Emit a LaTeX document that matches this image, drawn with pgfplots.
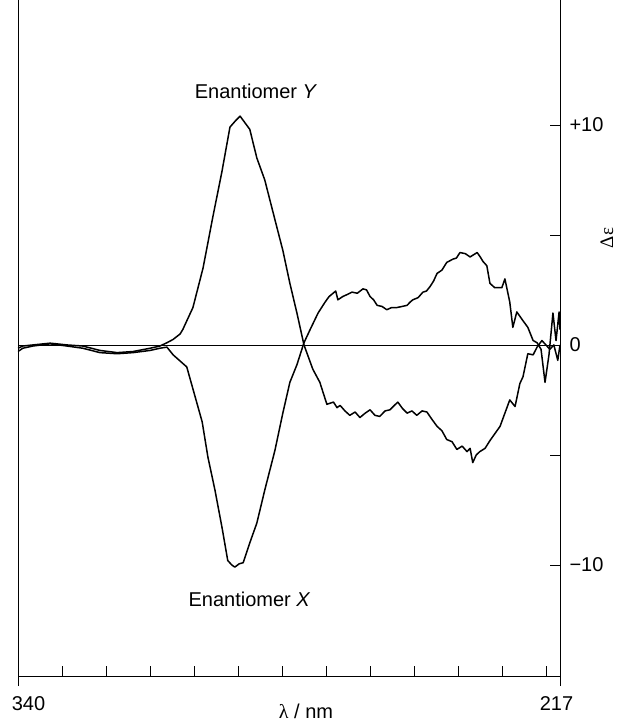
\documentclass[border=0pt]{standalone}
\usepackage{pgfplots}
\pgfplotsset{compat=1.18}
\usepackage{fontspec}
\setmainfont{Liberation Sans}
\newfontfamily\greekserif{Liberation Serif}
\newcommand\fs{\fontsize{20bp}{24bp}\selectfont}

\pgfplotstableread{
lam de
340 -0.15
338.9 -0.05
336.6 0.0
332.7 0.08
328.9 0.0
325.3 -0.05
321.4 -0.25
317.5 -0.35
313.9 -0.3
310.0 -0.15
307.8 -0.05
306.2 0.1
304.8 0.25
303.2 0.5
302.6 0.7
300.3 1.7
298.0 3.5
295.8 5.8
293.7 7.9
291.9 9.9
290.6 10.2
289.6 10.4
288.5 10.1
287.4 9.8
285.8 8.5
284.0 7.5
281.7 5.7
279.9 4.3
278.3 2.8
276.7 1.45
275.1 0.0
273.1 -1.1
271.5 -1.7
269.9 -2.7
268.4 -2.6
267.6 -2.85
266.9 -2.75
265.8 -3.0
264.7 -3.2
263.5 -3.05
262.4 -3.3
261.2 -3.1
260.1 -2.95
259.0 -3.2
257.9 -3.25
256.7 -3.0
255.6 -2.95
254.6 -2.75
253.8 -2.6
252.7 -2.9
251.7 -3.1
250.6 -3.0
249.5 -3.2
248.3 -3.0
247.2 -3.05
246.0 -3.4
244.9 -3.7
243.8 -3.9
242.7 -4.3
241.5 -4.4
240.4 -4.75
239.2 -4.6
238.1 -4.85
237.4 -4.7
236.8 -5.35
236.0 -5.0
235.2 -4.85
234.0 -4.7
232.9 -4.35
230.6 -3.7
228.4 -2.5
227.2 -2.8
226.1 -1.75
225.4 -1.45
224.3 -0.4
223.1 -0.45
222.2 -0.1
221.1 0.2
220.2 0.0
219.3 -0.2
218.4 0.0
217.5 -0.7
217.0 0.0
}\enY

\pgfplotstableread{
lam de
340 -0.3
338.9 -0.15
336.6 -0.05
332.7 0.05
328.9 -0.05
325.3 -0.15
321.4 -0.35
317.5 -0.4
313.9 -0.35
310.0 -0.25
307.8 -0.15
306.2 -0.1
304.8 -0.45
301.7 -1.0
300.3 -2.0
298.2 -3.5
296.9 -5.1
295.3 -6.6
293.7 -8.3
292.4 -9.8
291.5 -10.0
290.8 -10.1
289.8 -9.95
288.9 -9.9
287.4 -9.0
285.8 -8.1
284.0 -6.6
281.7 -4.8
279.9 -3.1
278.3 -1.7
276.7 -0.9
275.1 0.1
273.7 0.7
271.9 1.45
270.3 1.95
269.4 2.2
268.5 2.35
267.9 2.45
267.4 2.05
266.3 2.2
265.2 2.3
264.2 2.4
263.0 2.35
261.7 2.55
260.9 2.5
260.1 2.2
259.3 2.05
258.5 1.8
257.4 1.75
256.3 1.6
255.2 1.7
254.0 1.7
252.8 1.75
251.7 1.8
251.0 1.95
250.4 2.05
249.2 2.15
248.1 2.4
247.3 2.45
246.5 2.65
245.7 2.9
244.9 3.25
243.8 3.4
242.7 3.75
241.3 3.9
240.5 3.95
239.7 4.2
238.5 4.15
237.4 4.0
236.6 4.1
235.8 4.2
235.1 4.0
234.5 3.8
233.6 3.6
232.9 2.8
231.8 2.6
230.2 2.6
229.5 3.0
228.4 1.95
227.7 0.8
226.8 1.5
225.4 1.1
224.3 0.8
223.1 0.2
222.2 0.1
221.3 -0.2
220.4 -1.7
219.5 -0.45
218.6 1.45
217.9 0.2
217.2 1.5
217.0 0.7
}\enX

\begin{document}
\begin{tikzpicture}
\path[use as bounding box] (-18bp,-45bp) rectangle (603bp,676bp);
\begin{axis}[
  at={(0,0)}, anchor=south west,
  scale only axis, width=542bp, height=676bp,
  xmin=217, xmax=340, x dir=reverse,
  ymin=-15.05, ymax=15.68,
  axis x line*=bottom, axis y line*=box,
  xtick pos=bottom, ytick pos=right, yticklabel pos=right,
  xtick={220,230,...,330}, xticklabels={},
  ytick={-10,0,10}, yticklabels={−10,0,+10},
  minor ytick={-5,5},
  tick align=inside,
  major tick length=10bp, minor tick length=10bp,
  every tick/.style={black, line width=0.8bp},
  axis line style={line width=0.8bp, black},
  extra x ticks={340,217}, extra x tick labels={},
  extra x tick style={tick align=outside, major tick length=10bp},
  yticklabel style={font=\fs, xshift=6bp},
]
\addplot[black, line width=0.8bp] coordinates {(340,0) (217,0)};
\addplot[black, line width=1.5bp, line join=round] table[x=lam, y=de] {\enY};
\addplot[black, line width=1.5bp, line join=round] table[x=lam, y=de] {\enX};
\end{axis}
\node[anchor=base, font=\fs] at (10.5bp,-34bp) {340};
\node[anchor=base, font=\fs] at (538.5bp,-34bp) {217};
\node[anchor=base, font=\fs] at (288bp,-42bp) {{\greekserif λ} / nm};
\node[rotate=90, font=\fontsize{19bp}{22bp}\selectfont] at (589bp,438bp) {\greekserif Δε};
\node[anchor=base, font=\fs] at (238bp,577bp) {Enantiomer \textit{Y}};
\node[anchor=base, font=\fs] at (231.5bp,69bp) {Enantiomer \textit{X}};
\end{tikzpicture}
\end{document}
